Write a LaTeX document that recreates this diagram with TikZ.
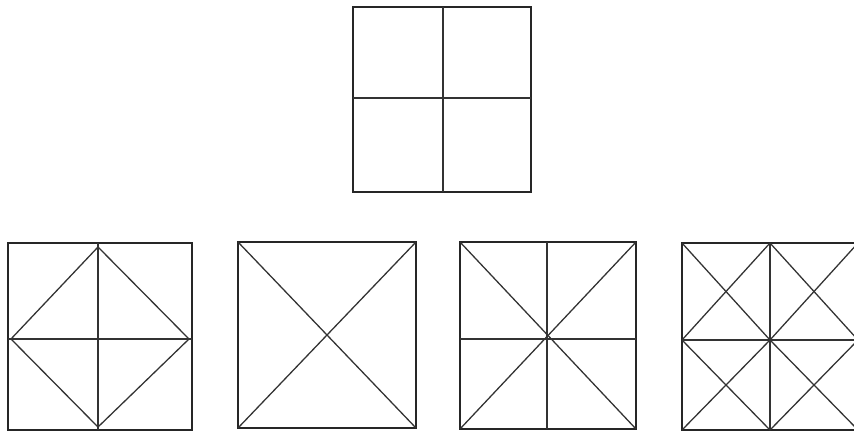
\documentclass[tikz,border=0pt]{standalone}
\begin{document}
\begin{tikzpicture}[x=0.03cm,y=-0.03cm,
  frame/.style={line width=1.9pt,draw=black!85,line join=miter},
  inner/.style={line width=1.1pt,draw=black!80}]
\useasboundingbox (0,0) rectangle (854,437);
% top square
\draw[frame] (353,7) rectangle (531,192);
\draw[inner] (443,7) -- (443,192);
\draw[inner] (353,98) -- (531,98);
% square 1
\draw[frame] (8,243) rectangle (192,430);
\draw[inner] (98,243) -- (98,430);
\draw[inner] (8,339) -- (192,339);
\draw[inner] (98,247) -- (189,339) -- (98,427) -- (11,339) -- cycle;
% square 2
\draw[frame] (238,242) rectangle (416,428);
\draw[inner] (238,242) -- (416,428);
\draw[inner] (416,242) -- (238,428);
% square 3
\draw[frame] (460,242) rectangle (636,429);
\draw[inner] (547,242) -- (547,429);
\draw[inner] (460,339) -- (636,339);
\draw[inner] (460,242) -- (636,429);
\draw[inner] (636,242) -- (460,429);
% square 4
\draw[frame] (682,243) rectangle (858,430);
\draw[inner] (770,243) -- (770,430);
\draw[inner] (682,340) -- (858,340);
\draw[inner] (682,243) -- (770,340) -- (858,430);
\draw[inner] (682,340) -- (770,243);
\draw[inner] (770,340) -- (858,243);
\draw[inner] (682,340) -- (770,430);
\draw[inner] (770,243) -- (858,340);
\draw[inner] (682,430) -- (770,340);
\draw[inner] (770,430) -- (858,340);
\end{tikzpicture}
\end{document}
